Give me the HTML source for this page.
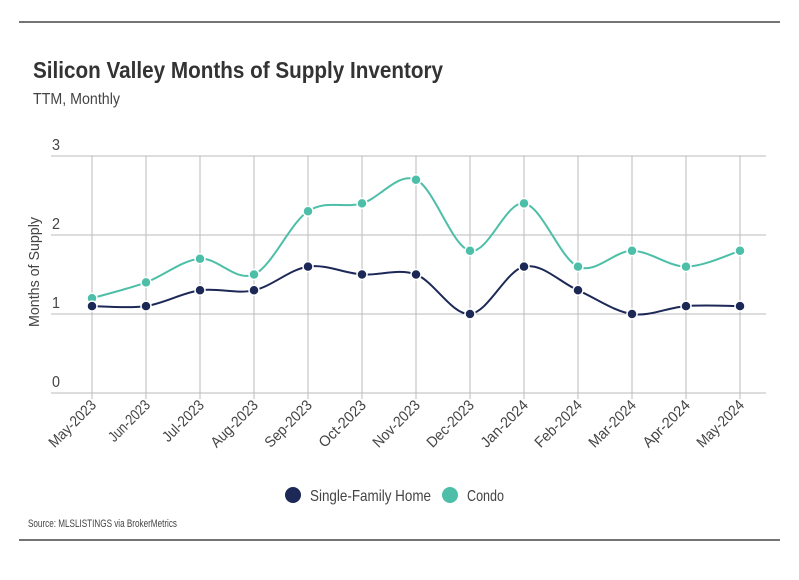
<!DOCTYPE html>
<html><head><meta charset="utf-8"><style>
body{margin:0;background:#fff;font-family:"Liberation Sans Narrow","Liberation Sans",sans-serif;}
svg text{font-family:"Liberation Sans Narrow","Liberation Sans",sans-serif;}
</style></head><body>
<svg id="c" width="799" height="575">
<line x1="19" y1="22" x2="780" y2="22" stroke="#222" stroke-width="1.2"/>
<line x1="19" y1="540" x2="780" y2="540" stroke="#222" stroke-width="1.2"/>
<text x="33" y="78" font-size="23" font-weight="bold" fill="#333" textLength="410" lengthAdjust="spacingAndGlyphs">Silicon Valley Months of Supply Inventory</text>
<text x="33" y="104" font-size="16" fill="#444" textLength="87" lengthAdjust="spacingAndGlyphs">TTM, Monthly</text>
<text transform="translate(39,272) rotate(-90)" text-anchor="middle" font-size="15" fill="#444" textLength="110" lengthAdjust="spacingAndGlyphs">Months of Supply</text>
<g id="grid"></g><g id="series"></g>
<g>
<circle cx="293" cy="495" r="8" fill="#1c2957"/>
<text x="310" y="501" font-size="16" fill="#444" textLength="121" lengthAdjust="spacingAndGlyphs">Single-Family Home</text>
<circle cx="450" cy="495" r="8" fill="#4dbfa8"/>
<text x="467" y="501" font-size="16" fill="#444" textLength="37" lengthAdjust="spacingAndGlyphs">Condo</text>
</g>
<text x="28" y="527" font-size="11" fill="#444" textLength="149" lengthAdjust="spacingAndGlyphs">Source:  MLSLISTINGS via BrokerMetrics</text>
</svg>
<script>
const categories=["May-2023","Jun-2023","Jul-2023","Aug-2023","Sep-2023","Oct-2023","Nov-2023","Dec-2023","Jan-2024","Feb-2024","Mar-2024","Apr-2024","May-2024"];
const sfhValues=[1.1,1.1,1.3,1.3,1.6,1.5,1.5,1.0,1.6,1.3,1.0,1.1,1.1];
const condoValues=[1.2,1.4,1.7,1.5,2.3,2.4,2.7,1.8,2.4,1.6,1.8,1.6,1.8];
const yTicks=[0,1,2,3];
const NS="http://www.w3.org/2000/svg";
const x=i=>92+i*(648/(categories.length-1));
const y=v=>393-v*79;
function mk(t,a,p){const e=document.createElementNS(NS,t);for(const k in a)e.setAttribute(k,a[k]);p.appendChild(e);return e;}
const g=document.getElementById('grid'),s=document.getElementById('series');
yTicks.forEach(t=>{const l=mk('line',{x1:51,x2:766,y1:y(t),y2:y(t),stroke:'#bbb'},g);


const tx=mk('text',{x:52,y:y(t)-6,'font-size':16,fill:'#444',textLength:8,lengthAdjust:'spacingAndGlyphs'},g);tx.textContent=t;

});
categories.forEach((c,i)=>{const l=mk('line',{x1:x(i),x2:x(i),y1:y(3),y2:y(0)+6,stroke:'#bbb'},g);


const tx=mk('text',{transform:`translate(${x(i)+5},${y(0)+13}) rotate(-45)`,'text-anchor':'end','font-size':15,fill:'#444',textLength:c.startsWith('Ju')?52:60,lengthAdjust:'spacingAndGlyphs'},g);tx.textContent=c;

});
function path(vals){const p=vals.map((v,i)=>[x(i),y(v)]);let d=`M${p[0][0]},${p[0][1]}`;
for(let i=0;i<p.length-1;i++){const p0=p[i-1]||p[i],p1=p[i],p2=p[i+1],p3=p[i+2]||p2;
d+=`C${p1[0]+(p2[0]-p0[0])/6},${p1[1]+(p2[1]-p0[1])/6} ${p2[0]-(p3[0]-p1[0])/6},${p2[1]-(p3[1]-p1[1])/6} ${p2[0]},${p2[1]}`;}return d;}
[[condoValues,'#4dbfa8','condo'],[sfhValues,'#1c2957','sfh']].forEach(([vals,col,n])=>{
const pa=mk('path',{d:path(vals),fill:'none',stroke:col,'stroke-width':2},s);


vals.forEach((v,i)=>{const c=mk('circle',{cx:x(i),cy:y(v),r:5,fill:col,stroke:'#fff','stroke-width':1.5},s);

});});
</script>
</body></html>
